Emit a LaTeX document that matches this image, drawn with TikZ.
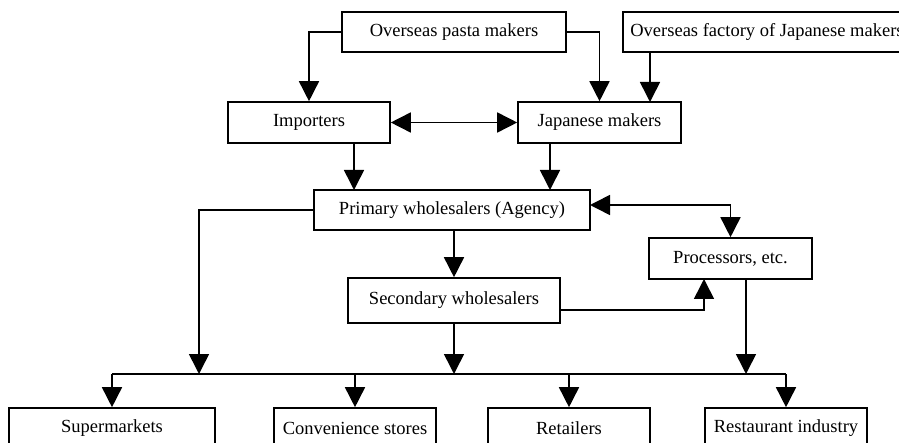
\documentclass[tikz,border=0pt]{standalone}
\usepackage{fontspec}
\setmainfont{Liberation Serif}
\usepackage{tikz}
\usetikzlibrary{arrows.meta}
\usetikzlibrary{positioning}

\tikzset{
	box/.style = {draw, line width = 1.6pt, inner sep = 0pt, minimum height = 40pt, font = \fontsize{18.5}{20}\selectfont},
	arr/.style = {-{Triangle[width=20pt,length=20pt]}, line width = 1.6pt},
	dblarr/.style = {{Triangle[width=20pt,length=20pt]}-{Triangle[width=20pt,length=20pt]}, line width = 1.6pt},
	bus/.style = {line width = 1.6pt}
}

\begin{document}
\begin{tikzpicture}[x=1pt, y=-1pt]
	\clip (0,0) rectangle (899,443);
	\useasboundingbox (0,0) rectangle (899,443);
	
	% upper part
	\node [box, minimum width = 224pt] (pasta) at (454,32) {Overseas pasta makers};
	\node [box, minimum width = 288pt] (factory) at (767,32) {Overseas factory of Japanese makers};
	\node [box, minimum width = 162pt, minimum height = 41pt] (imp) at (309,122.5) {Importers};
	\node [box, minimum width = 163pt, minimum height = 41pt] (jap) at (599.5,122.5) {Japanese makers};
	\node [box, minimum width = 276pt] (prim) at (452,210) {Primary wholesalers (Agency)};
	\node [box, minimum width = 212pt, minimum height = 45pt] (sec) at (454,300.5) {Secondary wholesalers};
	\node [box, minimum width = 163pt, minimum height = 41pt] (proc) at (730.5,258.5) {Processors, etc.};
	
	% lower part
	\node [box, minimum width = 206pt] (sup) at (112,428) {Supermarkets};
	\node [box, minimum width = 162pt] (conv) at (355,428) {Convenience stores};
	\node [box, minimum width = 162pt] (ret) at (569,428) {Retailers};
	\node [box, minimum width = 162pt] (rest) at (786,428) {Restaurant industry};
	
	\coordinate (fj) at (650,102);
	\coordinate (ip) at (354,190);
	\coordinate (jp) at (550,190);
	\coordinate (ps) at (454,230);
	\coordinate (pw) at (314,210);
	\coordinate (pe) at (590,205);
	\coordinate (se) at (560,310);
	\coordinate (sp) at (704,279);
	\coordinate (pr) at (746,279);
	\coordinate (busl) at (112,374);
	\coordinate (busr) at (786,374);
	
	\draw [arr] (pasta.west) -| (imp.north);
	\draw [arr] (pasta.east) -| (jap.north);
	\draw [arr] (fj |- factory.south) -- (fj);
	\draw [dblarr] (imp.east) -- (jap.west);
	\draw [arr] (ip |- imp.south) -- (ip);
	\draw [arr] (jp |- jap.south) -- (jp);
	\draw [arr] (ps) -- (ps |- sec.north);
	\draw [dblarr] (pe) -| (proc.north);
	\draw [arr] (se) -| (sp);
	
	\draw [bus] (busl) -- (busr);
	\draw [arr] (pw) -| (199,374);
	\draw [arr] (ps |- sec.south) -- (ps |- busl);
	\draw [arr] (pr) -- (pr |- busl);
	\foreach \n in {sup,conv,ret,rest}
		\draw [arr] (\n.north |- busl) -- (\n.north);
\end{tikzpicture}
\end{document}
